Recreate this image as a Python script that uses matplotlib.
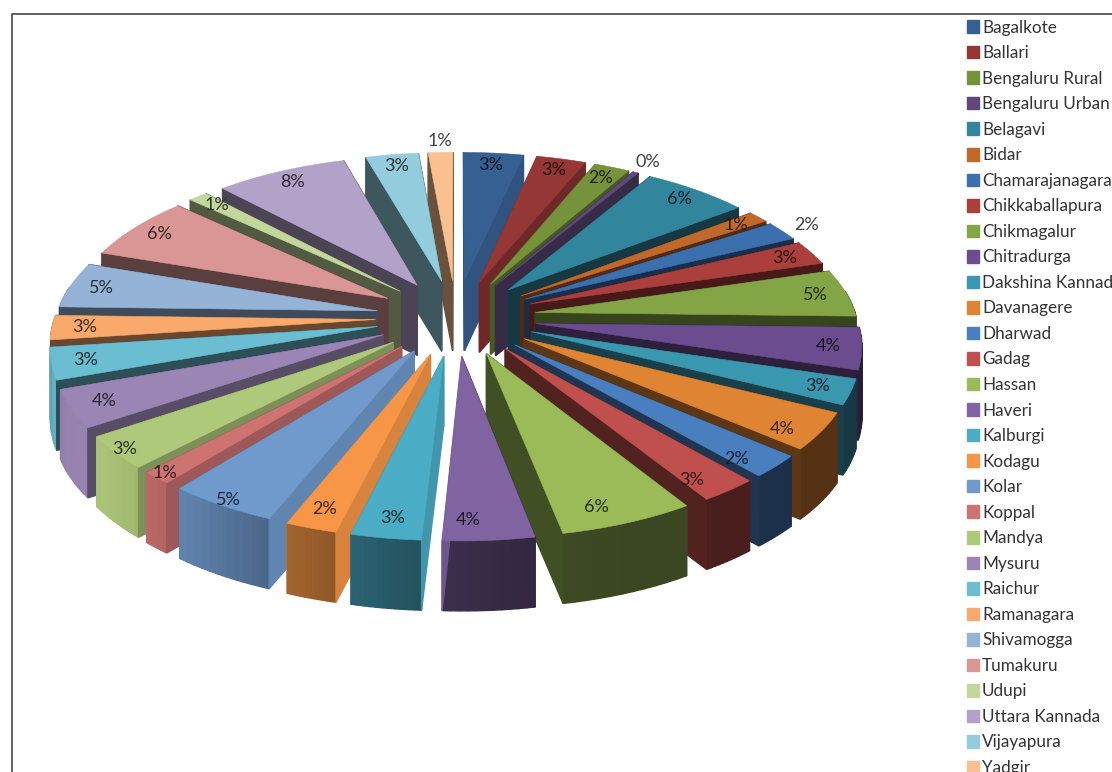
import numpy as np
import matplotlib
matplotlib.use('Agg')
import matplotlib.pyplot as plt
from matplotlib.patches import Polygon, Patch

# districts and their shares
districts = ['Bagalkote', 'Ballari', 'Bengaluru Rural', 'Bengaluru Urban', 'Belagavi', 'Bidar',
             'Chamarajanagara', 'Chikkaballapura', 'Chikmagalur', 'Chitradurga', 'Dakshina Kannada',
             'Davanagere', 'Dharwad', 'Gadag', 'Hassan', 'Haveri', 'Kalburgi', 'Kodagu', 'Kolar',
             'Koppal', 'Mandya', 'Mysuru', 'Raichur', 'Ramanagara', 'Shivamogga', 'Tumakuru',
             'Udupi', 'Uttara Kannada', 'Vijayapura', 'Yadgir']
shares = [3.4, 2.8, 2.0, 0.3, 6.0, 1.2, 2.0, 2.5, 4.9, 4.3, 2.6, 3.8, 2.3, 2.5, 5.8,
          3.9, 3.0, 2.2, 4.7, 1.3, 3.4, 3.9, 3.3, 2.5, 4.7, 6.6, 1.1, 7.5, 3.0, 1.4]
pct_labels = ['3%', '3%', '2%', '0%', '6%', '1%', '2%', '3%', '5%', '4%', '3%', '4%', '2%', '3%', '6%',
              '4%', '3%', '2%', '5%', '1%', '3%', '4%', '3%', '3%', '5%', '6%', '1%', '8%', '3%', '1%']
colors = ['#376092', '#953735', '#76933C', '#5F497A', '#31859C', '#C0692A', '#3B6FAE', '#AA3F3C',
          '#84A545', '#6A4C8F', '#3A97B0', '#DE8433', '#4A7FBF', '#C0504D', '#9BBB59', '#8064A2',
          '#4BACC6', '#F79646', '#7099CC', '#CD7371', '#AFC97A', '#9A85B4', '#6BBDD2', '#F9A96C',
          '#95B3D7', '#D99694', '#C3D69B', '#B3A2C7', '#93CDDD', '#FAC090']
outside = ['Bengaluru Urban', 'Chamarajanagara', 'Yadgir']

# projection of the tilted disc
cx, cy = 456, 317.5
sx, sy = 321, 152
persp = 0.12
explode = 0.25
depth = 70


def project(x, z):
    s = 1 / (1 - persp * z)
    return cx + sx * x * s, cy + sy * z * s


def darker(col, f):
    rgb = np.array(matplotlib.colors.to_rgb(col))
    return tuple(rgb * f)


def outer_shade(b):
    # light comes from the front left
    return 0.38 + 0.6 * max(0, np.cos(np.radians(b - 240))) ** 3


def radial_shade(b):
    if b < 180:
        return 0.42 + 0.45 * np.clip((40 - b) / 25, 0, 1)
    return 0.42 + 0.45 * np.clip((250 - b) / 40, 0, 1)


fig = plt.figure(figsize=(11.12, 7.72), dpi=100)
ax = fig.add_axes([0, 0, 1, 1])
ax.set_xlim(0, 1112)
ax.set_ylim(772, 0)
ax.axis('off')
plt.rcParams['font.family'] = ['Lato', 'DejaVu Sans']

# frame of the chart area
ax.plot([12, 12, 1112], [772, 14, 14], color='#555555', lw=1.3)

values = np.array(shares)
edges = np.concatenate([[0], np.cumsum(values)]) / values.sum() * 360
mids = (edges[:-1] + edges[1:]) / 2

# back slices first, front slices over them
order = np.argsort(-np.cos(np.radians(mids)))
for i in order:
    b0, b1, m = edges[i], edges[i + 1], mids[i]
    ox = explode * np.sin(np.radians(m))
    oz = -explode * np.cos(np.radians(m))
    bs = np.linspace(b0, b1, 12)
    rim = [project(ox + np.sin(np.radians(b)), oz - np.cos(np.radians(b))) for b in bs]
    apex = project(ox, oz)

    def wall(p, q, f):
        pts = [p, q, (q[0], q[1] + depth), (p[0], p[1] + depth)]
        ax.add_patch(Polygon(pts, closed=True, fc=darker(colors[i], f), ec=darker(colors[i], f), lw=1.0))

    # hidden radial wall, then the outer wall, then the visible radial wall
    if m < 180:
        wall(apex, rim[0], radial_shade(b0))
    else:
        wall(apex, rim[-1], radial_shade(b1))
    for j in range(len(bs) - 1):
        if np.cos(np.radians(bs[j])) < 0.15:
            wall(rim[j], rim[j + 1], outer_shade(bs[j]))
    if m < 180:
        wall(apex, rim[-1], radial_shade(b1))
    else:
        wall(apex, rim[0], radial_shade(b0))

    ax.add_patch(Polygon([apex] + rim, closed=True, fc=colors[i], ec=colors[i], lw=0.4))

# percentage labels go on top of all slices
for i, m in enumerate(mids):
    ox = explode * np.sin(np.radians(m))
    oz = -explode * np.cos(np.radians(m))
    lab_b = m
    r = 0.9
    col = darker(colors[i], 0.25)
    if districts[i] in outside:
        r = 1.1
        col = '#404040'
    elif 120 < m < 185:
        lab_b = m + 3
    elif 205 <= m < 240:
        r = 0.97
    tx, ty = project(ox + r * np.sin(np.radians(lab_b)), oz - r * np.cos(np.radians(lab_b)))
    ax.text(tx, ty, pct_labels[i], ha='center', va='center', fontsize=13, color=col, zorder=5)

handles = [Patch(fc=c, ec=c, label=d) for c, d in zip(colors, districts)]
ax.legend(handles=handles, loc='upper left', bbox_to_anchor=(964 / 1112, 1 - 17 / 772), frameon=False,
          fontsize=12.3, handlelength=0.75, handleheight=0.75, handletextpad=0.15, labelspacing=0.558,
          borderpad=0.15, borderaxespad=0, labelcolor='#333333')

fig.savefig('out.png', dpi=100)
